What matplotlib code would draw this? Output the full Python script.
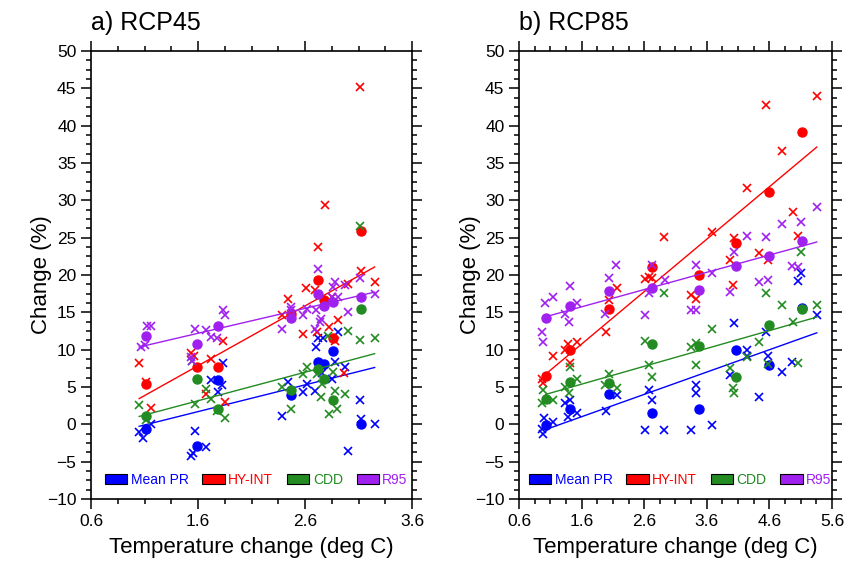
import matplotlib
matplotlib.use('Agg')
import numpy as np
import matplotlib.pyplot as plt
from matplotlib.patches import Patch
from matplotlib.ticker import MultipleLocator, FixedLocator

plt.rcParams['font.family'] = ['Liberation Sans', 'DejaVu Sans']

names = ['Mean PR', 'HY-INT', 'CDD', 'R95']
colors = ['#0000ff', '#ff0000', '#228b22', '#a020f0']

# ---- a) RCP45 ----
rcp45_dot_t = [1.11, 1.59, 1.79, 2.47, 2.72, 2.78, 2.86, 3.12]
rcp45_pr_dot = [-0.6, -2.9, 5.9, 3.9, 8.3, 8.1, 9.8, 0.0]
rcp45_int_dot = [5.4, 7.7, 7.7, 14.8, 19.3, 16.7, 11.5, 25.9]
rcp45_cdd_dot = [1.1, 6.0, 2.1, 4.6, 7.4, 6.1, 3.2, 15.5]
rcp45_r95_dot = [11.8, 10.7, 13.2, 14.2, 17.5, 15.8, 16.4, 17.1]

rcp45_pr_x = [(1.16, 0.1), (1.05, -1.0), (1.09, -1.8), (1.57, -0.9), (1.67, -3.1),
              (1.53, -4.3), (1.55, -3.8), (1.83, 8.2), (1.72, 5.9), (1.79, 4.3),
              (1.82, 5.2), (2.44, 5.6), (2.62, 5.4), (2.58, 4.3), (2.69, 4.5),
              (2.38, 1.1), (2.70, 10.4), (2.72, 11.5), (2.77, 11.6), (2.91, 12.4),
              (2.88, 8.3), (2.97, 7.7), (2.76, 6.9), (2.85, 6.1), (3.11, 3.2),
              (3.12, 0.7), (3.25, 0.1), (3.00, -3.6)]
rcp45_int_x = [(1.05, 8.2), (1.11, 5.6), (1.16, 2.2), (1.53, 9.5), (1.56, 9.1),
               (1.72, 8.8), (1.83, 11.2), (1.67, 4.0), (1.85, 3.0), (2.44, 16.8),
               (2.38, 14.6), (2.58, 12.1), (2.61, 18.2), (2.69, 18.0), (2.71, 12.4),
               (2.72, 23.7), (2.79, 29.4), (2.82, 13.0), (2.85, 17.1), (2.91, 13.9),
               (2.96, 6.9), (3.00, 18.8), (3.11, 45.1), (3.12, 20.5), (3.25, 19.1),
               (2.88, 11.2)]
rcp45_cdd_x = [(1.05, 2.6), (1.11, 0.6), (1.54, 8.5), (1.57, 2.7), (1.67, 4.7),
               (1.72, 3.4), (1.78, 1.8), (1.85, 0.8), (2.38, 5.0), (2.47, 2.0),
               (2.58, 6.7), (2.62, 7.7), (2.71, 6.8), (2.75, 3.6), (2.76, 5.4),
               (2.81, 11.8), (2.82, 1.4), (2.86, 7.0), (2.88, 4.5), (2.90, 2.0),
               (2.97, 4.0), (3.00, 12.5), (3.11, 11.3), (3.25, 11.5), (3.11, 26.6)]
rcp45_r95_x = [(1.12, 13.2), (1.16, 13.1), (1.07, 10.4), (1.10, 10.6), (1.57, 12.8),
               (1.67, 12.6), (1.72, 11.7), (1.78, 11.5), (1.83, 15.3), (1.85, 14.6),
               (1.53, 9.0), (1.54, 8.5), (2.38, 12.7), (2.47, 15.7), (2.47, 15.3),
               (2.58, 14.6), (2.62, 15.5), (2.70, 15.3), (2.75, 14.1), (2.74, 13.7),
               (2.69, 12.7), (2.72, 20.8), (2.88, 19.1), (2.86, 18.4), (2.97, 18.6),
               (2.85, 17.0), (2.91, 17.0), (3.00, 15.1), (3.11, 19.6), (3.25, 17.4)]

rcp45_fit_t = [1.05, 3.25]
rcp45_slope = [3.58, 8.01, 3.82, 3.34]
rcp45_icpt = [-4.03, -4.97, -2.96, 6.84]

# ---- b) RCP85 ----
rcp85_dot_t = [1.03, 1.41, 2.04, 2.73, 3.47, 4.06, 4.59, 5.12]
rcp85_pr_dot = [-0.1, 2.1, 4.1, 1.5, 2.1, 9.9, 8.0, 15.6]
rcp85_int_dot = [6.5, 9.9, 15.5, 21.1, 20.0, 24.3, 31.1, 39.2]
rcp85_cdd_dot = [3.4, 5.7, 5.5, 10.8, 10.5, 6.3, 13.3, 15.4]
rcp85_r95_dot = [14.2, 15.8, 17.9, 18.2, 18.0, 21.2, 22.5, 24.5]

rcp85_pr_x = [(0.96, -0.6), (0.99, -1.3), (1.00, 0.9), (1.15, 0.3), (1.34, 2.8),
              (1.41, 3.2), (1.39, 1.0), (1.53, 1.5), (1.99, 1.8), (2.16, 3.9),
              (2.62, -0.8), (2.91, -0.8), (2.67, 4.6), (2.72, 3.3), (3.34, -0.8),
              (3.69, -0.1), (3.43, 5.2), (3.43, 4.2), (3.97, 6.6), (4.03, 13.5),
              (4.25, 9.9), (4.25, 9.1), (4.44, 3.7), (4.54, 12.4), (4.57, 9.1),
              (4.80, 7.0), (4.96, 8.3), (5.06, 19.2), (5.10, 20.2), (5.36, 14.6)]
rcp85_int_x = [(0.96, 6.1), (0.99, 5.5), (1.14, 9.1), (1.33, 9.9), (1.39, 10.7),
               (1.42, 8.2), (1.53, 11.0), (1.99, 12.4), (2.04, 16.7), (2.16, 18.2),
               (2.62, 19.5), (2.68, 19.7), (2.73, 19.6), (2.91, 25.1), (3.34, 17.3),
               (3.43, 16.8), (3.69, 25.7), (3.97, 22.0), (4.02, 18.7), (4.03, 24.9),
               (4.25, 31.6), (4.44, 22.9), (4.57, 22.0), (4.54, 42.8), (4.80, 36.6),
               (4.97, 28.4), (5.06, 25.2), (5.36, 44.0)]
rcp85_cdd_x = [(0.96, 2.8), (0.99, 4.6), (1.15, 3.2), (1.34, 5.0), (1.40, 4.2),
               (1.41, 7.7), (1.53, 6.0), (1.97, 5.2), (2.04, 6.7), (2.16, 4.8),
               (2.62, 11.2), (2.67, 7.9), (2.72, 6.3), (2.91, 17.6), (3.34, 10.4),
               (3.43, 10.9), (3.43, 7.9), (3.69, 12.8), (3.97, 7.5), (4.02, 4.8),
               (4.03, 4.2), (4.25, 9.0), (4.44, 11.0), (4.54, 17.6), (4.57, 8.1),
               (4.80, 16.0), (4.97, 13.7), (5.06, 8.2), (5.10, 23.1), (5.36, 16.0)]
rcp85_r95_x = [(0.96, 12.4), (0.99, 11.0), (1.02, 16.2), (1.15, 17.0), (1.34, 14.7),
               (1.40, 13.7), (1.41, 18.5), (1.53, 16.2), (1.97, 14.8), (2.04, 19.6),
               (2.15, 21.3), (2.62, 14.6), (2.67, 17.6), (2.72, 21.3), (2.93, 19.3),
               (3.34, 15.3), (3.43, 15.3), (3.43, 21.3), (3.69, 20.3), (3.97, 17.7),
               (4.03, 23.1), (4.25, 25.2), (4.44, 19.1), (4.54, 25.1), (4.57, 19.3),
               (4.80, 26.8), (4.96, 21.2), (5.06, 21.0), (5.10, 27.1), (5.36, 29.1)]

rcp85_fit_t = [1.025, 5.357]
rcp85_slope = [2.99, 7.02, 2.39, 2.31]
rcp85_icpt = [-3.77, -0.49, 1.55, 12.03]


def panel(ax, title, dot_t, dots, crosses, fit_t, slopes, icpts, xmax):
    for i in range(4):
        cx = [p[0] for p in crosses[i]]
        cy = [p[1] for p in crosses[i]]
        ax.plot(cx, cy, ls='none', marker='x', ms=6, mew=1.2, color=colors[i])
        ax.plot(dot_t, dots[i], ls='none', marker='o', ms=6.5, color=colors[i])
        fy = [slopes[i] * t + icpts[i] for t in fit_t]
        ax.plot(fit_t, fy, color=colors[i], lw=1.0)

    ax.set_xlim(0.6, xmax)
    ax.set_ylim(-10, 50)
    ax.xaxis.set_major_locator(FixedLocator(np.arange(0.6, xmax + 0.01, 1.0)))
    ax.xaxis.set_minor_locator(FixedLocator(np.arange(0.6, xmax + 0.01, 0.25)))
    ax.yaxis.set_major_locator(MultipleLocator(5))
    ax.yaxis.set_minor_locator(MultipleLocator(1.25))
    ax.xaxis.set_major_formatter(plt.FuncFormatter(lambda v, p: '%.1f' % v))
    ax.tick_params(which='both', direction='out', top=True, right=True,
                   width=1.1, labelsize=12.5)
    ax.tick_params(which='major', length=7)
    ax.tick_params(which='minor', length=3.5)
    for s in ax.spines.values():
        s.set_linewidth(1.2)

    ax.text(0.0, 1.047, title, transform=ax.transAxes, fontsize=18,
            ha='left', va='baseline')
    ax.text(-0.155, 0.5, 'Change (%)', transform=ax.transAxes, fontsize=16,
            rotation=90, ha='center', va='center')
    ax.text(0.5, -0.109, 'Temperature change (deg C)', transform=ax.transAxes,
            fontsize=16, ha='center', va='center')

    handles = [Patch(facecolor=c, edgecolor='black', lw=0.8) for c in colors]
    ax.legend(handles, names, loc='center', bbox_to_anchor=(0.515, 0.042),
              ncol=4, frameon=False, fontsize=10, handlelength=1.6,
              handleheight=0.7, handletextpad=0.25, columnspacing=1.0,
              labelcolor=colors, borderpad=0)


fig = plt.figure(figsize=(8.45, 5.68), dpi=100)
ax1 = fig.add_axes([0.1077, 0.1215, 0.380, 0.789])
ax2 = fig.add_axes([0.6142, 0.1215, 0.3704, 0.789])

panel(ax1, 'a) RCP45', rcp45_dot_t,
      [rcp45_pr_dot, rcp45_int_dot, rcp45_cdd_dot, rcp45_r95_dot],
      [rcp45_pr_x, rcp45_int_x, rcp45_cdd_x, rcp45_r95_x],
      rcp45_fit_t, rcp45_slope, rcp45_icpt, 3.6)
panel(ax2, 'b) RCP85', rcp85_dot_t,
      [rcp85_pr_dot, rcp85_int_dot, rcp85_cdd_dot, rcp85_r95_dot],
      [rcp85_pr_x, rcp85_int_x, rcp85_cdd_x, rcp85_r95_x],
      rcp85_fit_t, rcp85_slope, rcp85_icpt, 5.6)

fig.savefig('out.png', dpi=100)
